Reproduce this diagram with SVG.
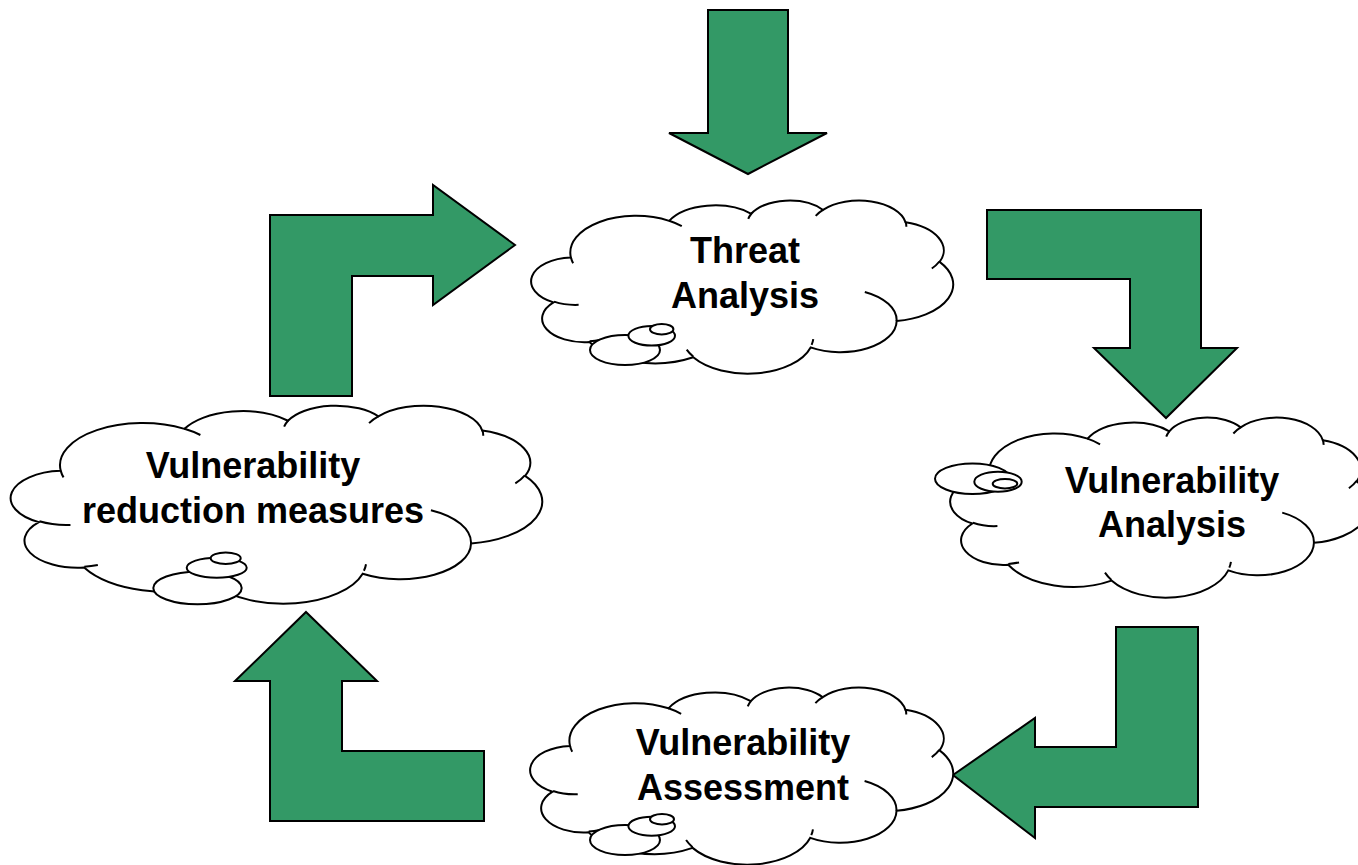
<svg xmlns="http://www.w3.org/2000/svg" xmlns:xlink="http://www.w3.org/1999/xlink" width="1358" height="865" viewBox="0 0 1358 865">
<style>
.arrow{fill:#339966;stroke:#000;stroke-width:2;stroke-linejoin:miter}
.cl{fill:#fff;stroke:#000;stroke-width:2;vector-effect:non-scaling-stroke}
.cli{fill:none;stroke:#000;stroke-width:2;vector-effect:non-scaling-stroke}
.bub{fill:#fff;stroke:#000;stroke-width:2}
.lbl{font-family:"Liberation Sans",Arial,sans-serif;font-weight:bold;font-size:36px;fill:#000;text-anchor:middle}
</style>
<defs>
<g id="cloud">
<path class="cl" d="M 39.00 143.70 A 67.53 91.90 0 0 1 140.05 52.02 A 53.33 72.67 0 0 1 224.57 34.34 A 43.65 59.45 0 0 1 298.35 24.84 A 48.57 65.95 0 0 1 383.20 55.79 A 53.33 72.73 0 0 1 418.21 154.63 A 67.75 92.20 0 0 1 374.05 302.04 A 57.85 78.67 0 0 1 285.57 368.14 A 67.52 92.15 0 0 1 164.82 392.66 A 77.20 105.43 0 0 1 58.06 354.73 A 43.60 59.18 0 0 1 21.13 255.54 A 43.45 59.45 0 0 1 39.00 143.70 Z"/>
<path class="cli" d="M 46.93 261.77 A 43.45 59.45 0 0 1 21.60 253.80 M 69.28 348.99 A 43.60 59.18 0 0 1 58.20 352.81 M 164.78 390.90 A 67.52 92.15 0 0 1 158.10 373.49 M 288.27 347.51 A 67.52 92.15 0 0 1 286.57 361.76 M 341.29 229.54 A 57.85 78.67 0 0 1 374.05 302.04 M 417.98 153.54 A 53.33 72.73 0 0 1 410.20 171.01 M 383.24 54.26 A 48.57 65.95 0 0 1 384.01 66.90 M 290.78 39.52 A 48.57 65.95 0 0 1 298.35 24.84 M 221.41 47.20 A 43.65 59.45 0 0 1 224.57 34.34 M 140.00 51.92 A 67.53 91.90 0 0 1 153.02 65.43 M 41.27 157.89 A 67.53 91.90 0 0 1 39.00 143.71"/>
</g>
</defs>
<rect width="1358" height="865" fill="#fff"/>
<g id="connectors">
<polygon class="arrow" points="708,10 788,10 788,133 827,133 748,174 669,133 708,133"/>
<polygon class="arrow" points="270,396 270,215 433,215 433,185 515,245 433,305 433,276 352,276 352,396"/>
<polygon class="arrow" points="987,210 1201,210 1201,348 1237,348 1166,418 1094,348 1130,348 1130,279 987,279"/>
<polygon class="arrow" points="1116,627 1198,627 1198,807 1035,807 1035,838 953,775 1035,718 1035,747 1116,747"/>
<polygon class="arrow" points="306,612 377,681 342,681 342,751 484,751 484,821 270,821 270,681 235,681"/>
</g>
<g id="threat-analysis">
<use href="#cloud" xlink:href="#cloud" transform="translate(533 200) scale(0.97222 0.40046)"/>
<ellipse class="bub" cx="625" cy="350" rx="35" ry="15"/>
<ellipse class="bub" cx="651.7" cy="335.8" rx="23.3" ry="9.8"/>
<ellipse class="bub" cx="661.7" cy="329.2" rx="11.7" ry="5.2"/>
<text class="lbl" x="745" y="263">Threat</text>
<text class="lbl" x="745" y="308">Analysis</text>
</g>
<g id="vulnerability-analysis">
<use href="#cloud" xlink:href="#cloud" transform="translate(952 417) scale(0.96759 0.41667)"/>
<ellipse class="bub" cx="972.5" cy="478.7" rx="37.5" ry="15.3"/>
<ellipse class="bub" cx="998" cy="481.7" rx="23.7" ry="10"/>
<ellipse class="bub" cx="1005" cy="483.7" rx="12.3" ry="4.7"/>
<text class="lbl" x="1172" y="493">Vulnerability</text>
<text class="lbl" x="1172" y="537">Analysis</text>
</g>
<g id="vulnerability-assessment">
<use href="#cloud" xlink:href="#cloud" transform="translate(532 687) scale(0.97454 0.40972)"/>
<ellipse class="bub" cx="625" cy="840" rx="35" ry="15"/>
<ellipse class="bub" cx="651.7" cy="826.2" rx="23.3" ry="9.5"/>
<ellipse class="bub" cx="662" cy="819.2" rx="12" ry="5.2"/>
<text class="lbl" x="743" y="755">Vulnerability</text>
<text class="lbl" x="743" y="800">Assessment</text>
</g>
<g id="vulnerability-reduction-measures">
<use href="#cloud" xlink:href="#cloud" transform="translate(13 405) scale(1.22454 0.45833)"/>
<ellipse class="bub" cx="197.5" cy="588" rx="44.2" ry="16.3"/>
<ellipse class="bub" cx="216.7" cy="567.7" rx="30" ry="10"/>
<ellipse class="bub" cx="225.7" cy="558.2" rx="15" ry="5.8"/>
<text class="lbl" x="253" y="478">Vulnerability</text>
<text class="lbl" x="253" y="523">reduction measures</text>
</g>
</svg>
